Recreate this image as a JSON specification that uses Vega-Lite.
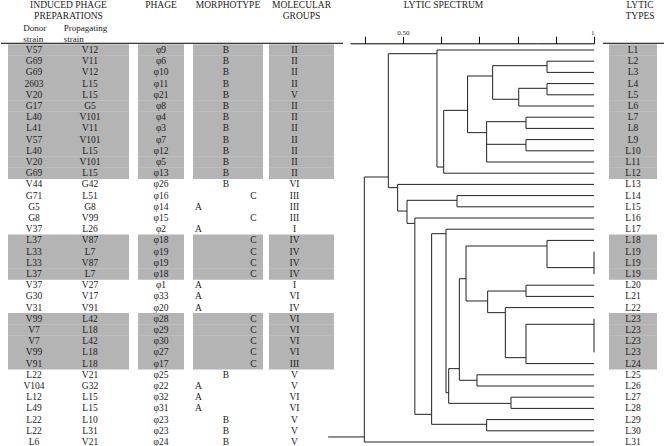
{
  "$schema": "https://vega.github.io/schema/vega-lite/v6.json",
  "padding": 0,
  "background": "white",
  "config": {
    "view": {"stroke": null},
    "text": {"font": "Liberation Serif", "fontSize": 9.5, "color": "#222"},
    "axis": {"labelFont": "Liberation Serif"}
  },
  "datasets": {
    "table": [
      {"row": 1, "donor": "V57", "propagating": "V12", "phage": "φ9", "morph": "B", "group": "II", "lytic": "L1", "shaded": true},
      {"row": 2, "donor": "G69", "propagating": "V11", "phage": "φ6", "morph": "B", "group": "II", "lytic": "L2", "shaded": true},
      {"row": 3, "donor": "G69", "propagating": "V12", "phage": "φ10", "morph": "B", "group": "II", "lytic": "L3", "shaded": true},
      {"row": 4, "donor": "2603", "propagating": "L15", "phage": "φ11", "morph": "B", "group": "II", "lytic": "L4", "shaded": true},
      {"row": 5, "donor": "V20", "propagating": "L15", "phage": "φ21", "morph": "B", "group": "V", "lytic": "L5", "shaded": true},
      {"row": 6, "donor": "G17", "propagating": "G5", "phage": "φ8", "morph": "B", "group": "II", "lytic": "L6", "shaded": true},
      {"row": 7, "donor": "L40", "propagating": "V101", "phage": "φ4", "morph": "B", "group": "II", "lytic": "L7", "shaded": true},
      {"row": 8, "donor": "L41", "propagating": "V11", "phage": "φ3", "morph": "B", "group": "II", "lytic": "L8", "shaded": true},
      {"row": 9, "donor": "V57", "propagating": "V101", "phage": "φ7", "morph": "B", "group": "II", "lytic": "L9", "shaded": true},
      {"row": 10, "donor": "L40", "propagating": "L15", "phage": "φ12", "morph": "B", "group": "II", "lytic": "L10", "shaded": true},
      {"row": 11, "donor": "V20", "propagating": "V101", "phage": "φ5", "morph": "B", "group": "II", "lytic": "L11", "shaded": true},
      {"row": 12, "donor": "G69", "propagating": "L15", "phage": "φ13", "morph": "B", "group": "II", "lytic": "L12", "shaded": true},
      {"row": 13, "donor": "V44", "propagating": "G42", "phage": "φ26", "morph": "B", "group": "VI", "lytic": "L13", "shaded": false},
      {"row": 14, "donor": "G71", "propagating": "L51", "phage": "φ16", "morph": "C", "group": "III", "lytic": "L14", "shaded": false},
      {"row": 15, "donor": "G5", "propagating": "G8", "phage": "φ14", "morph": "A", "group": "III", "lytic": "L15", "shaded": false},
      {"row": 16, "donor": "G8", "propagating": "V99", "phage": "φ15", "morph": "C", "group": "III", "lytic": "L16", "shaded": false},
      {"row": 17, "donor": "V37", "propagating": "L26", "phage": "φ2", "morph": "A", "group": "I", "lytic": "L17", "shaded": false},
      {"row": 18, "donor": "L37", "propagating": "V87", "phage": "φ18", "morph": "C", "group": "IV", "lytic": "L18", "shaded": true},
      {"row": 19, "donor": "L33", "propagating": "L7", "phage": "φ19", "morph": "C", "group": "IV", "lytic": "L19", "shaded": true},
      {"row": 20, "donor": "L33", "propagating": "V87", "phage": "φ19", "morph": "C", "group": "IV", "lytic": "L19", "shaded": true},
      {"row": 21, "donor": "L37", "propagating": "L7", "phage": "φ18", "morph": "C", "group": "IV", "lytic": "L19", "shaded": true},
      {"row": 22, "donor": "V37", "propagating": "V27", "phage": "φ1", "morph": "A", "group": "I", "lytic": "L20", "shaded": false},
      {"row": 23, "donor": "G30", "propagating": "V17", "phage": "φ33", "morph": "A", "group": "VI", "lytic": "L21", "shaded": false},
      {"row": 24, "donor": "V31", "propagating": "V91", "phage": "φ20", "morph": "A", "group": "IV", "lytic": "L22", "shaded": false},
      {"row": 25, "donor": "V99", "propagating": "L42", "phage": "φ28", "morph": "C", "group": "VI", "lytic": "L23", "shaded": true},
      {"row": 26, "donor": "V7", "propagating": "L18", "phage": "φ29", "morph": "C", "group": "VI", "lytic": "L23", "shaded": true},
      {"row": 27, "donor": "V7", "propagating": "L42", "phage": "φ30", "morph": "C", "group": "VI", "lytic": "L23", "shaded": true},
      {"row": 28, "donor": "V99", "propagating": "L18", "phage": "φ27", "morph": "C", "group": "VI", "lytic": "L23", "shaded": true},
      {"row": 29, "donor": "V91", "propagating": "L18", "phage": "φ17", "morph": "C", "group": "III", "lytic": "L24", "shaded": true},
      {"row": 30, "donor": "L22", "propagating": "V21", "phage": "φ25", "morph": "B", "group": "V", "lytic": "L25", "shaded": false},
      {"row": 31, "donor": "V104", "propagating": "G32", "phage": "φ22", "morph": "A", "group": "V", "lytic": "L26", "shaded": false},
      {"row": 32, "donor": "L12", "propagating": "L15", "phage": "φ32", "morph": "A", "group": "VI", "lytic": "L27", "shaded": false},
      {"row": 33, "donor": "L49", "propagating": "L15", "phage": "φ31", "morph": "A", "group": "VI", "lytic": "L28", "shaded": false},
      {"row": 34, "donor": "L22", "propagating": "L10", "phage": "φ23", "morph": "B", "group": "V", "lytic": "L29", "shaded": false},
      {"row": 35, "donor": "L22", "propagating": "L31", "phage": "φ23", "morph": "B", "group": "V", "lytic": "L30", "shaded": false},
      {"row": 36, "donor": "L6", "propagating": "V21", "phage": "φ24", "morph": "B", "group": "V", "lytic": "L31", "shaded": false}
    ],
    "headers": [
      {"col": "prep", "key": "prep", "line": -3, "text": "INDUCED PHAGE"},
      {"col": "prep", "key": "prep", "line": -2, "text": "PREPARATIONS"},
      {"col": "sub", "key": "donor", "line": -1, "text": "Donor"},
      {"col": "sub", "key": "donor", "line": 0, "text": "strain"},
      {"col": "sub", "key": "propagating", "line": -1, "text": "Propagating"},
      {"col": "sub", "key": "propagating", "line": 0, "text": "strain"},
      {"col": "phage", "key": "phage", "line": -3, "text": "PHAGE"},
      {"col": "morph", "key": "morph", "line": -3, "text": "MORPHOTYPE"},
      {"col": "group", "key": "group", "line": -3, "text": "MOLECULAR"},
      {"col": "group", "key": "group", "line": -2, "text": "GROUPS"},
      {"col": "spectrum", "key": "spectrum", "line": -3, "text": "LYTIC SPECTRUM"},
      {"col": "lytic", "key": "lytic", "line": -3, "text": "LYTIC"},
      {"col": "lytic", "key": "lytic", "line": -2, "text": "TYPES"}
    ],
    "tree": [
      {"s1": 0.589, "s2": 1, "p1": 1, "p2": 1},
      {"s1": 0.877, "s2": 1, "p1": 2, "p2": 2},
      {"s1": 0.877, "s2": 1, "p1": 3, "p2": 3},
      {"s1": 0.877, "s2": 1, "p1": 4, "p2": 4},
      {"s1": 0.877, "s2": 1, "p1": 5, "p2": 5},
      {"s1": 0.803, "s2": 1, "p1": 6, "p2": 6},
      {"s1": 0.822, "s2": 1, "p1": 7, "p2": 7},
      {"s1": 0.822, "s2": 1, "p1": 8, "p2": 8},
      {"s1": 0.822, "s2": 1, "p1": 9, "p2": 9},
      {"s1": 0.822, "s2": 1, "p1": 10, "p2": 10},
      {"s1": 0.719, "s2": 1, "p1": 11, "p2": 11},
      {"s1": 0.6065, "s2": 1, "p1": 12, "p2": 12},
      {"s1": 0.877, "s2": 0.877, "p1": 2, "p2": 3},
      {"s1": 0.877, "s2": 0.877, "p1": 4, "p2": 5},
      {"s1": 0.822, "s2": 0.822, "p1": 7, "p2": 8},
      {"s1": 0.822, "s2": 0.822, "p1": 9, "p2": 10},
      {"s1": 0.803, "s2": 0.803, "p1": 4.42, "p2": 6},
      {"s1": 0.7347, "s2": 0.7347, "p1": 2.4, "p2": 5.4},
      {"s1": 0.719, "s2": 0.719, "p1": 7.4, "p2": 11},
      {"s1": 0.669, "s2": 0.669, "p1": 3.32, "p2": 8.38},
      {"s1": 0.6065, "s2": 0.6065, "p1": 6.39, "p2": 12},
      {"s1": 0.589, "s2": 0.589, "p1": 1, "p2": 11.45},
      {"s1": 0.7347, "s2": 0.877, "p1": 2.4, "p2": 2.4},
      {"s1": 0.803, "s2": 0.877, "p1": 4.42, "p2": 4.42},
      {"s1": 0.7347, "s2": 0.803, "p1": 5.4, "p2": 5.4},
      {"s1": 0.669, "s2": 0.7347, "p1": 3.32, "p2": 3.32},
      {"s1": 0.719, "s2": 0.822, "p1": 7.4, "p2": 7.4},
      {"s1": 0.719, "s2": 0.822, "p1": 9.42, "p2": 9.42},
      {"s1": 0.669, "s2": 0.719, "p1": 8.38, "p2": 8.38},
      {"s1": 0.6065, "s2": 0.669, "p1": 6.39, "p2": 6.39},
      {"s1": 0.589, "s2": 0.6065, "p1": 11.45, "p2": 11.45},
      {"s1": 0.4616, "s2": 0.589, "p1": 1.33, "p2": 1.33},
      {"s1": 0.4616, "s2": 0.4616, "p1": 1.33, "p2": 13.29},
      {"s1": 0.3988, "s2": 0.4616, "p1": 12.34, "p2": 12.34},
      {"s1": 0.3988, "s2": 0.3988, "p1": 12.34, "p2": 36},
      {"s1": 0.3988, "s2": 1, "p1": 36, "p2": 36},
      {"s1": 0.304, "s2": 0.3988, "p1": 35.55, "p2": 35.55},
      {"s1": 0.4616, "s2": 0.486, "p1": 13.29, "p2": 13.29},
      {"s1": 0.486, "s2": 0.486, "p1": 13, "p2": 15.38},
      {"s1": 0.486, "s2": 1, "p1": 13, "p2": 13},
      {"s1": 0.486, "s2": 0.5105, "p1": 15.38, "p2": 15.38},
      {"s1": 0.5105, "s2": 0.5105, "p1": 14.42, "p2": 16.48},
      {"s1": 0.5105, "s2": 0.6414, "p1": 14.42, "p2": 14.42},
      {"s1": 0.6414, "s2": 0.6414, "p1": 14, "p2": 15},
      {"s1": 0.6414, "s2": 1, "p1": 14, "p2": 14},
      {"s1": 0.6414, "s2": 1, "p1": 15, "p2": 15},
      {"s1": 0.5105, "s2": 0.531, "p1": 16.48, "p2": 16.48},
      {"s1": 0.531, "s2": 0.531, "p1": 16, "p2": 33.53},
      {"s1": 0.531, "s2": 1, "p1": 16, "p2": 16},
      {"s1": 0.531, "s2": 0.575, "p1": 33.53, "p2": 33.53},
      {"s1": 0.575, "s2": 0.575, "p1": 17.4, "p2": 34.42},
      {"s1": 0.575, "s2": 0.719, "p1": 34.42, "p2": 34.42},
      {"s1": 0.719, "s2": 0.719, "p1": 34, "p2": 35},
      {"s1": 0.719, "s2": 1, "p1": 34, "p2": 34},
      {"s1": 0.719, "s2": 1, "p1": 35, "p2": 35},
      {"s1": 0.575, "s2": 0.6126, "p1": 17.4, "p2": 17.4},
      {"s1": 0.6126, "s2": 0.6126, "p1": 17, "p2": 31.6},
      {"s1": 0.6126, "s2": 1, "p1": 17, "p2": 17},
      {"s1": 0.6126, "s2": 0.6196, "p1": 31.6, "p2": 31.6},
      {"s1": 0.6196, "s2": 0.6196, "p1": 29.45, "p2": 32.55},
      {"s1": 0.6196, "s2": 0.7827, "p1": 32.55, "p2": 32.55},
      {"s1": 0.7827, "s2": 0.7827, "p1": 32, "p2": 33},
      {"s1": 0.7827, "s2": 1, "p1": 32, "p2": 32},
      {"s1": 0.7827, "s2": 1, "p1": 33, "p2": 33},
      {"s1": 0.6196, "s2": 0.6475, "p1": 29.45, "p2": 29.45},
      {"s1": 0.6475, "s2": 0.6475, "p1": 21.42, "p2": 30.49},
      {"s1": 0.6475, "s2": 0.6937, "p1": 30.49, "p2": 30.49},
      {"s1": 0.6937, "s2": 0.6937, "p1": 30, "p2": 31},
      {"s1": 0.6937, "s2": 1, "p1": 30, "p2": 30},
      {"s1": 0.6937, "s2": 1, "p1": 31, "p2": 31},
      {"s1": 0.6475, "s2": 0.665, "p1": 21.42, "p2": 21.42},
      {"s1": 0.665, "s2": 0.665, "p1": 18.5, "p2": 23.41},
      {"s1": 0.665, "s2": 0.877, "p1": 18.5, "p2": 18.5},
      {"s1": 0.877, "s2": 0.877, "p1": 18, "p2": 20.43},
      {"s1": 0.877, "s2": 1, "p1": 18, "p2": 18},
      {"s1": 0.877, "s2": 1, "p1": 20.43, "p2": 20.43},
      {"s1": 1, "s2": 1, "p1": 19, "p2": 21},
      {"s1": 0.665, "s2": 0.7216, "p1": 23.41, "p2": 23.41},
      {"s1": 0.7216, "s2": 0.7216, "p1": 22.52, "p2": 24.45},
      {"s1": 0.7216, "s2": 0.822, "p1": 22.52, "p2": 22.52},
      {"s1": 0.822, "s2": 0.822, "p1": 22, "p2": 23},
      {"s1": 0.822, "s2": 1, "p1": 22, "p2": 22},
      {"s1": 0.822, "s2": 1, "p1": 23, "p2": 23},
      {"s1": 0.7216, "s2": 0.7679, "p1": 24.45, "p2": 24.45},
      {"s1": 0.7679, "s2": 0.7679, "p1": 24, "p2": 28.47},
      {"s1": 0.7679, "s2": 1, "p1": 24, "p2": 24},
      {"s1": 0.7679, "s2": 0.822, "p1": 28.47, "p2": 28.47},
      {"s1": 0.822, "s2": 0.822, "p1": 25.49, "p2": 29},
      {"s1": 0.822, "s2": 1, "p1": 25.49, "p2": 25.49},
      {"s1": 1, "s2": 1, "p1": 25, "p2": 28},
      {"s1": 0.822, "s2": 1, "p1": 29, "p2": 29}
    ]
  },
  "spacing": 0,
  "bounds": "flush",
  "resolve": {"scale": {"x": "independent", "y": "independent"}},
  "hconcat": [
    {
      "width": 7, "height": 446,
      "data": {"name": "headers"},
      "transform": [{"filter": "datum.line == -3 && datum.col == 'prep'"}],
      "mark": {"type": "rule", "color": "#000", "strokeWidth": 1},
      "encoding": {"y": {"datum": 0.4, "type": "quantitative", "scale": {"domain": [-3.375, 36.446], "reverse": true, "nice": false, "zero": false}, "axis": null}}
    },
    {
      "width": 121, "height": 446,
      "resolve": {"scale": {"x": "independent"}},
      "layer": [
        {
          "data": {"name": "table"},
          "transform": [{"filter": "datum.shaded"}],
          "mark": {"type": "rule", "color": "#b4b4b4", "strokeWidth": 11.6},
          "encoding": {"y": {"field": "row", "type": "quantitative", "scale": {"domain": [-3.375, 36.446], "reverse": true, "nice": false, "zero": false}, "axis": null}}
        },
        {
          "data": {"name": "table"},
          "transform": [{"fold": ["donor", "propagating"]}],
          "mark": {"type": "text"},
          "encoding": {
            "x": {"field": "key", "type": "nominal", "scale": {"type": "point", "domain": ["donor", "propagating"], "padding": 0.58, "align": 0.4}, "axis": null},
            "y": {"field": "row", "type": "quantitative", "scale": {"domain": [-3.375, 36.446], "reverse": true, "nice": false, "zero": false}, "axis": null},
            "text": {"field": "value"}
          }
        },
        {
          "data": {"name": "headers"},
          "transform": [{"filter": "datum.col == 'prep'"}],
          "mark": {"type": "text"},
          "encoding": {
            "y": {"field": "line", "type": "quantitative", "scale": {"domain": [-3.375, 36.446], "reverse": true, "nice": false, "zero": false}, "axis": null},
            "text": {"field": "text"}
          }
        },
        {
          "data": {"name": "headers"},
          "transform": [{"filter": "datum.col == 'sub'"}],
          "mark": {"type": "text", "align": "left", "fontSize": 9},
          "encoding": {
            "x": {"field": "key", "type": "nominal", "scale": {"type": "point", "domain": ["donor", "propagating"], "padding": 1.1351, "align": 0.1905}, "axis": null},
            "y": {"field": "line", "type": "quantitative", "scale": {"domain": [-3.375, 36.446], "reverse": true, "nice": false, "zero": false}, "axis": null},
            "text": {"field": "text"}
          }
        },
        {
          "data": {"name": "headers"},
          "transform": [{"filter": "datum.line == -3 && datum.col == 'prep'"}],
          "mark": {"type": "rule", "color": "#000", "strokeWidth": 1},
          "encoding": {"y": {"datum": 0.4, "type": "quantitative", "scale": {"domain": [-3.375, 36.446], "reverse": true, "nice": false, "zero": false}, "axis": null}}
        }
      ]
    },
    {
      "width": 9, "height": 446,
      "data": {"name": "headers"},
      "transform": [{"filter": "datum.line == -3 && datum.col == 'prep'"}],
      "mark": {"type": "rule", "color": "#000", "strokeWidth": 1},
      "encoding": {"y": {"datum": 0.4, "type": "quantitative", "scale": {"domain": [-3.375, 36.446], "reverse": true, "nice": false, "zero": false}, "axis": null}}
    },
    {
      "width": 46, "height": 446,
      "layer": [
        {
          "data": {"name": "table"},
          "transform": [{"filter": "datum.shaded"}],
          "mark": {"type": "rule", "color": "#b4b4b4", "strokeWidth": 11.6},
          "encoding": {"y": {"field": "row", "type": "quantitative", "scale": {"domain": [-3.375, 36.446], "reverse": true, "nice": false, "zero": false}, "axis": null}}
        },
        {
          "data": {"name": "table"},
          "mark": {"type": "text"},
          "encoding": {
            "y": {"field": "row", "type": "quantitative", "scale": {"domain": [-3.375, 36.446], "reverse": true, "nice": false, "zero": false}, "axis": null},
            "text": {"field": "phage"}
          }
        },
        {
          "data": {"name": "headers"},
          "transform": [{"filter": "datum.col == 'phage'"}],
          "mark": {"type": "text"},
          "encoding": {
            "y": {"field": "line", "type": "quantitative", "scale": {"domain": [-3.375, 36.446], "reverse": true, "nice": false, "zero": false}, "axis": null},
            "text": {"field": "text"}
          }
        },
        {
          "data": {"name": "headers"},
          "transform": [{"filter": "datum.col == 'phage'"}],
          "mark": {"type": "rule", "color": "#000", "strokeWidth": 1},
          "encoding": {"y": {"datum": 0.4, "type": "quantitative", "scale": {"domain": [-3.375, 36.446], "reverse": true, "nice": false, "zero": false}, "axis": null}}
        }
      ]
    },
    {
      "width": 9, "height": 446,
      "data": {"name": "headers"},
      "transform": [{"filter": "datum.line == -3 && datum.col == 'prep'"}],
      "mark": {"type": "rule", "color": "#000", "strokeWidth": 1},
      "encoding": {"y": {"datum": 0.4, "type": "quantitative", "scale": {"domain": [-3.375, 36.446], "reverse": true, "nice": false, "zero": false}, "axis": null}}
    },
    {
      "width": 70, "height": 446,
      "layer": [
        {
          "data": {"name": "table"},
          "transform": [{"filter": "datum.shaded"}],
          "mark": {"type": "rule", "color": "#b4b4b4", "strokeWidth": 11.6},
          "encoding": {"y": {"field": "row", "type": "quantitative", "scale": {"domain": [-3.375, 36.446], "reverse": true, "nice": false, "zero": false}, "axis": null}}
        },
        {
          "data": {"name": "table"},
          "mark": {"type": "text"},
          "encoding": {
            "x": {"field": "morph", "type": "nominal", "scale": {"type": "point", "domain": ["A", "B", "C"], "padding": 0.2727, "align": 0.367}, "axis": null},
            "y": {"field": "row", "type": "quantitative", "scale": {"domain": [-3.375, 36.446], "reverse": true, "nice": false, "zero": false}, "axis": null},
            "text": {"field": "morph"}
          }
        },
        {
          "data": {"name": "headers"},
          "transform": [{"filter": "datum.col == 'morph'"}],
          "mark": {"type": "text"},
          "encoding": {
            "y": {"field": "line", "type": "quantitative", "scale": {"domain": [-3.375, 36.446], "reverse": true, "nice": false, "zero": false}, "axis": null},
            "text": {"field": "text"}
          }
        },
        {
          "data": {"name": "headers"},
          "transform": [{"filter": "datum.col == 'morph'"}],
          "mark": {"type": "rule", "color": "#000", "strokeWidth": 1},
          "encoding": {"y": {"datum": 0.4, "type": "quantitative", "scale": {"domain": [-3.375, 36.446], "reverse": true, "nice": false, "zero": false}, "axis": null}}
        }
      ]
    },
    {
      "width": 6, "height": 446,
      "data": {"name": "headers"},
      "transform": [{"filter": "datum.line == -3 && datum.col == 'prep'"}],
      "mark": {"type": "rule", "color": "#000", "strokeWidth": 1},
      "encoding": {"y": {"datum": 0.4, "type": "quantitative", "scale": {"domain": [-3.375, 36.446], "reverse": true, "nice": false, "zero": false}, "axis": null}}
    },
    {
      "width": 65, "height": 446,
      "layer": [
        {
          "data": {"name": "table"},
          "transform": [{"filter": "datum.shaded"}],
          "mark": {"type": "rule", "color": "#b4b4b4", "strokeWidth": 11.6},
          "encoding": {"y": {"field": "row", "type": "quantitative", "scale": {"domain": [-3.375, 36.446], "reverse": true, "nice": false, "zero": false}, "axis": null}}
        },
        {
          "data": {"name": "table"},
          "transform": [{"fold": ["group"]}],
          "mark": {"type": "text"},
          "encoding": {
            "x": {"field": "key", "type": "nominal", "scale": {"type": "point", "domain": ["group"], "padding": 0, "align": 0.392}, "axis": null},
            "y": {"field": "row", "type": "quantitative", "scale": {"domain": [-3.375, 36.446], "reverse": true, "nice": false, "zero": false}, "axis": null},
            "text": {"field": "value"}
          }
        },
        {
          "data": {"name": "headers"},
          "transform": [{"filter": "datum.col == 'group'"}],
          "mark": {"type": "text"},
          "encoding": {
            "y": {"field": "line", "type": "quantitative", "scale": {"domain": [-3.375, 36.446], "reverse": true, "nice": false, "zero": false}, "axis": null},
            "text": {"field": "text"}
          }
        },
        {
          "data": {"name": "headers"},
          "transform": [{"filter": "datum.line == -3 && datum.col == 'group'"}],
          "mark": {"type": "rule", "color": "#000", "strokeWidth": 1},
          "encoding": {"y": {"datum": 0.4, "type": "quantitative", "scale": {"domain": [-3.375, 36.446], "reverse": true, "nice": false, "zero": false}, "axis": null}}
        }
      ]
    },
    {
      "width": 9, "height": 446,
      "data": {"name": "headers"},
      "transform": [{"filter": "datum.line == -3 && datum.col == 'prep'"}],
      "mark": {"type": "rule", "color": "#000", "strokeWidth": 1},
      "encoding": {"y": {"datum": 0.4, "type": "quantitative", "scale": {"domain": [-3.375, 36.446], "reverse": true, "nice": false, "zero": false}, "axis": null}}
    },
    {"width": 7, "height": 446, "data": {"values": []}, "mark": "rule", "encoding": {}},
    {
      "width": 187, "height": 446,
      "layer": [
        {
          "data": {"name": "tree"},
          "transform": [{"filter": "datum.s1 < 0.85"}],
          "mark": {"type": "rule", "color": "#222", "strokeWidth": 1},
          "encoding": {
            "x": {
              "field": "s1", "type": "quantitative",
              "scale": {"domain": [0.3613, 0.8508], "nice": false, "zero": false},
              "axis": {
                "orient": "top", "title": null, "grid": false,
                "values": [0.4, 0.5, 0.6, 0.7, 0.8],
                "labelExpr": "datum.value == 0.5 ? '0.50' : ''",
                "tickSize": 7, "tickColor": "#000", "domainColor": "#000",
                "labelFontSize": 7, "labelColor": "#222", "labelPadding": 1, "labelFlush": false,
                "offset": -42.3
              }
            },
            "x2": {"field": "s2"},
            "y": {"field": "p1", "type": "quantitative", "scale": {"domain": [-3.375, 36.446], "reverse": true, "nice": false, "zero": false}, "axis": null},
            "y2": {"field": "p2"}
          }
        },
        {
          "data": {"name": "headers"},
          "transform": [{"filter": "datum.col == 'spectrum'"}],
          "mark": {"type": "text"},
          "encoding": {
            "y": {"field": "line", "type": "quantitative", "scale": {"domain": [-3.375, 36.446], "reverse": true, "nice": false, "zero": false}, "axis": null},
            "text": {"field": "text"}
          }
        }
      ]
    },
    {
      "width": 57, "height": 446,
      "data": {"name": "tree"},
      "transform": [{"filter": "datum.s1 >= 0.85"}],
      "mark": {"type": "rule", "color": "#222", "strokeWidth": 1},
      "encoding": {
        "x": {
          "field": "s1", "type": "quantitative",
          "scale": {"domain": [0.8508, 1.0], "nice": false, "zero": false},
          "axis": {
            "orient": "top", "title": null, "grid": false,
            "values": [0.9, 1],
            "labelExpr": "datum.value == 1 ? '1' : ''",
            "tickSize": 7, "tickColor": "#000", "domainColor": "#000",
            "labelFontSize": 7, "labelColor": "#222", "labelPadding": 1,
            "offset": -42.3
          }
        },
        "x2": {"field": "s2"},
        "y": {"field": "p1", "type": "quantitative", "scale": {"domain": [-3.375, 36.446], "reverse": true, "nice": false, "zero": false}, "axis": null},
        "y2": {"field": "p2"}
      }
    },
    {"width": 9, "height": 446, "data": {"values": []}, "mark": "rule", "encoding": {}},
    {
      "width": 6, "height": 446,
      "data": {"name": "headers"},
      "transform": [{"filter": "datum.line == -3 && datum.col == 'prep'"}],
      "mark": {"type": "rule", "color": "#000", "strokeWidth": 1},
      "encoding": {"y": {"datum": 0.4, "type": "quantitative", "scale": {"domain": [-3.375, 36.446], "reverse": true, "nice": false, "zero": false}, "axis": null}}
    },
    {
      "width": 48, "height": 446,
      "layer": [
        {
          "data": {"name": "table"},
          "transform": [{"filter": "datum.shaded"}],
          "mark": {"type": "rule", "color": "#b4b4b4", "strokeWidth": 11.6},
          "encoding": {"y": {"field": "row", "type": "quantitative", "scale": {"domain": [-3.375, 36.446], "reverse": true, "nice": false, "zero": false}, "axis": null}}
        },
        {
          "data": {"name": "table"},
          "mark": {"type": "text"},
          "encoding": {
            "y": {"field": "row", "type": "quantitative", "scale": {"domain": [-3.375, 36.446], "reverse": true, "nice": false, "zero": false}, "axis": null},
            "text": {"field": "lytic"}
          }
        },
        {
          "data": {"name": "headers"},
          "transform": [{"filter": "datum.col == 'lytic'"}],
          "mark": {"type": "text"},
          "encoding": {
            "x": {"field": "key", "type": "nominal", "scale": {"type": "point", "domain": ["lytic"], "padding": 0, "align": 0.646}, "axis": null},
            "y": {"field": "line", "type": "quantitative", "scale": {"domain": [-3.375, 36.446], "reverse": true, "nice": false, "zero": false}, "axis": null},
            "text": {"field": "text"}
          }
        },
        {
          "data": {"name": "headers"},
          "transform": [{"filter": "datum.line == -3 && datum.col == 'lytic'"}],
          "mark": {"type": "rule", "color": "#000", "strokeWidth": 1},
          "encoding": {"y": {"datum": 0.4, "type": "quantitative", "scale": {"domain": [-3.375, 36.446], "reverse": true, "nice": false, "zero": false}, "axis": null}}
        }
      ]
    },
    {
      "width": 8, "height": 446,
      "data": {"name": "headers"},
      "transform": [{"filter": "datum.line == -3 && datum.col == 'prep'"}],
      "mark": {"type": "rule", "color": "#000", "strokeWidth": 1},
      "encoding": {"y": {"datum": 0.4, "type": "quantitative", "scale": {"domain": [-3.375, 36.446], "reverse": true, "nice": false, "zero": false}, "axis": null}}
    }
  ]
}
